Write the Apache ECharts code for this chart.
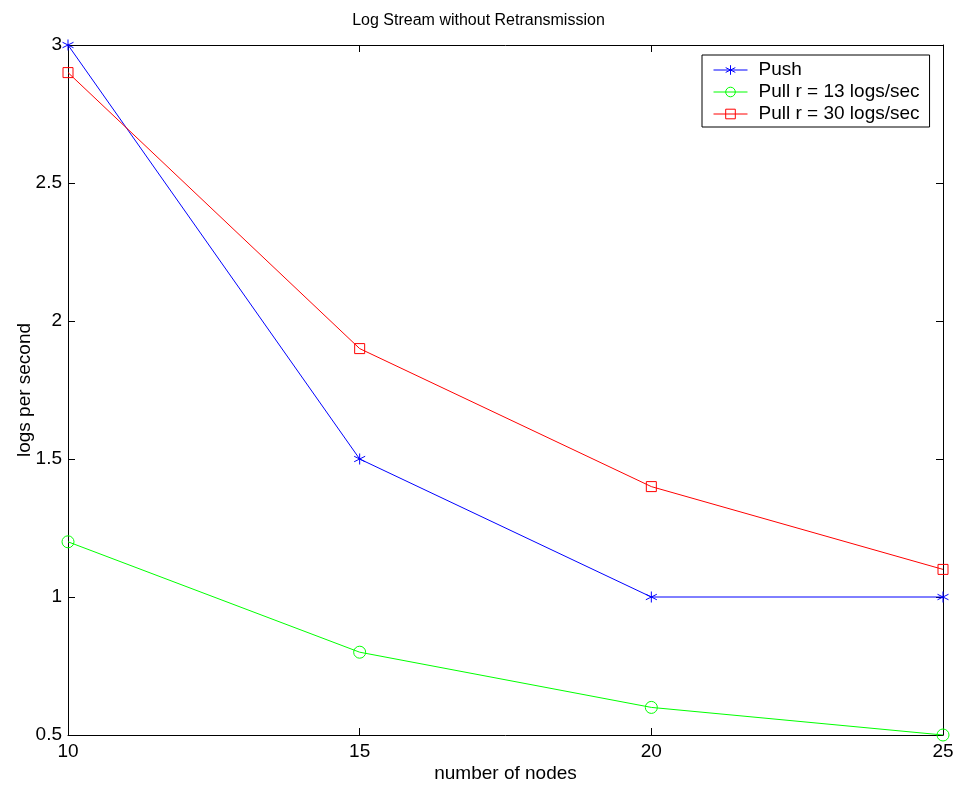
<!DOCTYPE html>
<html><head><meta charset="utf-8">
<script src="https://cdn.jsdelivr.net/npm/echarts@6/dist/echarts.min.js"></script>
<style>html,body{margin:0;padding:0;background:#fff}#c{width:957px;height:787px}</style>
</head><body><div id="c"></div>
<script>
const nodes = [10, 15, 20, 25];
const push = [3, 1.5, 1, 1];
const pull13 = [1.2, 0.8, 0.6, 0.5];
const pull30 = [2.9, 1.9, 1.4, 1.1];
const names = ['Push', 'Pull r = 13 logs/sec', 'Pull r = 30 logs/sec'];

const font = 'Liberation Sans, Arial, Helvetica, sans-serif';
const star = 'path://M0,-1L0,1M-0.87,-0.5L0.87,0.5M-0.87,0.5L0.87,-0.5';
function pts(v){ return nodes.map((x,i)=>[x,v[i]]); }
function ser(name, data, color, symbol, size){
  return {name, type:'line', data: pts(data), symbol, symbolSize:size,
    showAllSymbol:true,
    lineStyle:{color, width:1}, itemStyle:{color:'rgba(0,0,0,0)', borderColor:color, borderWidth:1},
    emphasis:{disabled:true}, animation:false, z:3};
}
const axisCommon = {
  axisLine:{show:true, onZero:false, lineStyle:{color:'#000', width:1}},
  axisTick:{show:true, inside:true, length:7, lineStyle:{color:'#000'}},
  splitLine:{show:false}
};
const chart = echarts.init(document.getElementById('c'));
chart.setOption({
  animation:false,
  title:{text:'Log Stream without Retransmission', left:'center', top:13, padding:0,
    textStyle:{fontFamily:font, fontSize:16, fontWeight:'normal', color:'#000'}},
  grid:{left:68, right:14, top:45, bottom:52, containLabel:false, outerBoundsMode:'none'},
  legend:{data:names, orient:'vertical', left:702, top:55,
    padding:[4,10,2,11], itemGap:0, itemWidth:34, itemHeight:12,
    borderColor:'#000', borderWidth:1, backgroundColor:'#fff',
    lineStyle:{width:1}, itemStyle:{borderWidth:1},
    textStyle:{fontFamily:font, fontSize:19, color:'#000', lineHeight:22, padding:[0,0,0,6]}},
  xAxis:[
    Object.assign({type:'value', min:10, max:25, interval:5, position:'bottom',
      name:'number of nodes', nameLocation:'middle', nameGap:29, nameMoveOverlap:false,
      nameTextStyle:{fontFamily:font, fontSize:19, color:'#000'},
      axisLabel:{fontFamily:font, fontSize:19, color:'#000', margin:7}}, axisCommon),
    Object.assign({type:'value', min:10, max:25, interval:5, position:'top',
      axisLabel:{show:false}}, axisCommon)
  ],
  yAxis:[
    Object.assign({type:'value', min:0.5, max:3, interval:0.5, position:'left',
      name:'logs per second', nameLocation:'middle', nameGap:34, nameRotate:90, nameMoveOverlap:false,
      nameTextStyle:{fontFamily:font, fontSize:19, color:'#000'},
      axisLabel:{fontFamily:font, fontSize:19, color:'#000', margin:6}}, axisCommon),
    Object.assign({type:'value', min:0.5, max:3, interval:0.5, position:'right',
      axisLabel:{show:false}}, axisCommon)
  ],
  series:[
    ser(names[0], push, '#0000ff', star, 11),
    ser(names[1], pull13, '#00ff00', 'circle', 12),
    ser(names[2], pull30, '#ff0000', 'rect', 10)
  ]
});
</script></body></html>
